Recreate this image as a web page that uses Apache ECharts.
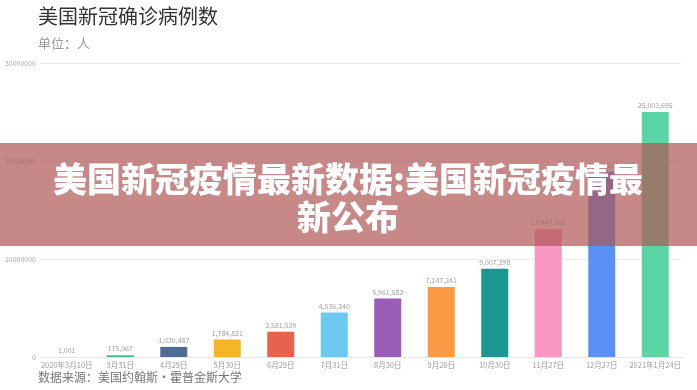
<!DOCTYPE html>
<html>
<head>
<meta charset="utf-8">
<script src="https://cdn.jsdelivr.net/npm/echarts@6/dist/echarts.min.js"></script>
<style>
  html, body { margin: 0; padding: 0; background: #fff; }
  #chart { width: 697px; height: 390px; }
</style>
</head>
<body>
<div id="chart"></div>
<script>
// 日期
var dates = ['2020年3月10日', '3月31日', '4月29日', '5月30日', '6月29日', '7月31日',
  '8月30日', '9月28日', '10月30日', '11月27日', '12月27日', '2021年1月24日'];
// 确诊人数
var cases = [1001, 175067, 1030487, 1784821, 2581539, 4536240,
  5961582, 7147241, 9007298, 13047202, 18900000, 25003695];
var barColors = ['#9aa6b8', '#3dbb86', '#4f6a93', '#f4b625', '#e8634d', '#6dc9ee',
  '#9a5db8', '#fc9a45', '#1b9690', '#f898c2', '#5a8ff6', '#5bd5a3'];
var yTicks = { min: 0, max: 30000000, interval: 10000000 };

var font = '"Noto Sans CJK SC", "Noto Sans", sans-serif';

function fmt(v) {
  return String(v).replace(/\B(?=(\d{3})+(?!\d))/g, ',');
}

var myChart = echarts.init(document.getElementById('chart'));
var option = {
  backgroundColor: '#fff',
  animation: false,
  grid: { left: 40, right: 15, top: 63, bottom: 33 },
  xAxis: {
    type: 'category',
    data: dates,
    axisLine: { lineStyle: { color: '#e6e6e6' } },
    axisTick: { show: false },
    axisLabel: { interval: 0, color: '#9a9a9a', fontSize: 7.5, margin: 4, fontFamily: font }
  },
  yAxis: {
    type: 'value',
    min: yTicks.min,
    max: yTicks.max,
    interval: yTicks.interval,
    axisLine: { show: false },
    axisTick: { show: false },
    splitLine: { lineStyle: { color: '#eeeeee' } },
    axisLabel: {
      color: '#a8a8a8', fontSize: 7, margin: 4, fontFamily: font,
      formatter: function (v) { return String(v); }
    }
  },
  series: [{
    type: 'bar',
    barWidth: 27,
    data: cases.map(function (v, i) {
      return { value: v, itemStyle: { color: barColors[i] } };
    }),
    label: {
      show: true,
      position: 'top',
      distance: 3,
      color: '#a0a0a0',
      fontSize: 7,
      fontFamily: font,
      formatter: function (p) { return fmt(p.value); }
    }
  }],
  graphic: [
    {
      type: 'text', left: 38, top: 6,
      style: { text: '美国新冠确诊病例数', fill: '#333', font: '20px ' + font }
    },
    {
      type: 'text', left: 38, top: 37,
      style: { text: '单位：人', fill: '#999', font: '13px ' + font }
    },
    {
      type: 'text', left: 38, top: 371,
      style: { text: '数据来源：美国约翰斯·霍普金斯大学', fill: '#777', font: '12px ' + font }
    },
    {
      type: 'rect', left: 0, top: 143, z: 100,
      shape: { width: 697, height: 103 },
      style: { fill: 'rgba(175,85,85,0.7)' }
    },
    {
      type: 'text', x: 348, y: 160, z: 101,
      style: {
        text: '美国新冠疫情最新数据:美国新冠疫情最\n新公布',
        fill: '#fff',
        font: '900 34px ' + font,
        align: 'center',
        lineHeight: 38
      }
    }
  ]
};
myChart.setOption(option);
</script>
</body>
</html>
